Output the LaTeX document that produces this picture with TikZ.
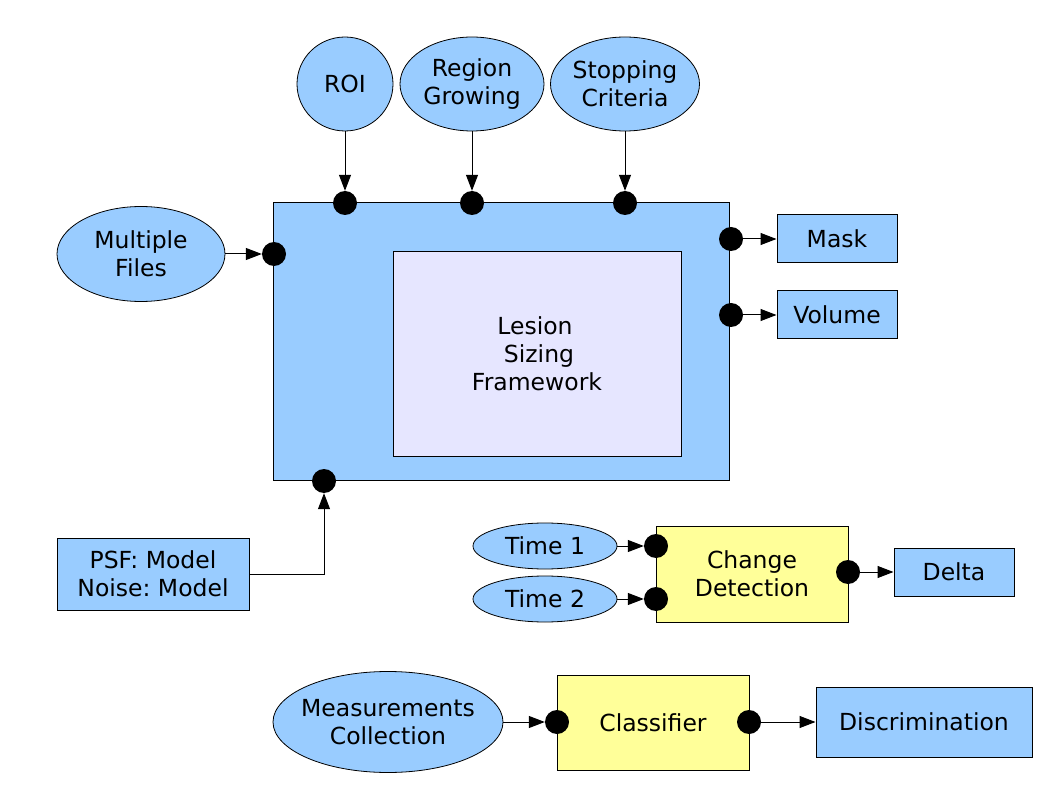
\documentclass[tikz,border=0pt]{standalone}
\usepackage{fontspec}
\setmainfont{DejaVu Sans}
\usetikzlibrary{shapes.geometric,arrows.meta}
\definecolor{lblue}{HTML}{99CCFF}
\definecolor{lav}{HTML}{E6E6FF}
\definecolor{lyel}{HTML}{FFFF99}
\frenchspacing
\tikzset{
  every node/.style={font=\fontsize{23.5}{28}\selectfont\frenchspacing, align=center},
  ell/.style={ellipse, draw=black, line width=0.8pt, fill=lblue, inner xsep=-15pt, inner ysep=-10pt},
  bbox/.style={rectangle, draw=black, line width=1pt, fill=lblue, inner sep=0pt},
  ybox/.style={rectangle, draw=black, line width=1pt, fill=lyel, inner sep=0pt},
  port/.style={circle, fill=black, draw=none, minimum size=24pt, inner sep=0pt},
  arr/.style={line width=1pt, -{Triangle[length=16pt,width=12pt]}},
  conn/.style={line width=1pt},
}
\begin{document}
\begin{tikzpicture}[x=1pt,y=-1pt]
\useasboundingbox (0,0) rectangle (1058,794);
% main framework
\node[bbox, minimum width=456pt, minimum height=277pt] (frame) at (501,341.5) {};
\node[rectangle, draw=black, line width=1pt, fill=lav, minimum width=288pt, minimum height=204pt, inner sep=0pt] (inner) at (537,354) {Lesion\rule{4pt}{0pt}\\\rule{4pt}{0pt}Sizing\\Framework};
% inputs
\node[ell, minimum width=96pt, minimum height=94pt] (roi) at (345,84) {ROI};
\node[ell, minimum width=144pt, minimum height=94pt] (rg) at (472,84) {Region\\Growing};
\node[ell, minimum width=149pt, minimum height=94pt] (sc) at (625,84) {Stopping\\Criteria};
\node[ell, minimum width=168pt, minimum height=95pt] (mf) at (141,254) {Multiple\\Files};
\node[bbox, minimum width=192pt, minimum height=72pt] (psf) at (153,574) {PSF: Model\\Noise: Model};
% outputs
\node[bbox, minimum width=120pt, minimum height=48pt] (mask) at (837,239) {Mask};
\node[bbox, minimum width=120pt, minimum height=48pt] (vol) at (837,315) {Volume};
% change detection
\node[ell, minimum width=144pt, minimum height=46pt] (t1) at (545,546) {Time 1};
\node[ell, minimum width=144pt, minimum height=46pt] (t2) at (545,599) {Time 2};
\node[ybox, minimum width=192pt, minimum height=96pt] (cd) at (752,574) {Change\\Detection};
\node[bbox, minimum width=120pt, minimum height=48pt] (delta) at (954,572) {Delta};
% classifier
\node[ell, minimum width=230pt, minimum height=101pt] (meas) at (388,722) {Measurements\\Collection};
\node[ybox, minimum width=192pt, minimum height=95pt] (cl) at (653,722.5) {Classifier};
\node[bbox, minimum width=216pt, minimum height=70pt] (disc) at (924,722) {Discrimination};
% ports
\node[port] (proi) at (345,203) {};
\node[port] (prg) at (472,203) {};
\node[port] (psc) at (625,203) {};
\node[port] (pmf) at (274,254) {};
\node[port] (pmask) at (731,239) {};
\node[port] (pvol) at (731,315) {};
\node[port] (ppsf) at (324,481) {};
\node[port] (pt1) at (656,546) {};
\node[port] (pt2) at (656,599) {};
\node[port] (pcd) at (848,572) {};
\node[port] (pcli) at (557,722) {};
\node[port] (pclo) at (749,722) {};
% connectors
\draw[arr] (roi.south) -- (proi.north);
\draw[arr] (rg.south) -- (prg.north);
\draw[arr] (sc.south) -- (psc.north);
\draw[arr] (mf.east) -- (pmf.west);
\draw[arr] (pmask.east) -- (mask.west);
\draw[arr] (pvol.east) -- (vol.west);
\draw[arr] (psf.east) -| (ppsf.south);
\draw[arr] (t1.east) -- (pt1.west);
\draw[arr] (t2.east) -- (pt2.west);
\draw[arr] (pcd.east) -- (delta.west);
\draw[arr] (meas.east) -- (pcli.west);
\draw[arr] (pclo.east) -- (disc.west);
\end{tikzpicture}
\end{document}
